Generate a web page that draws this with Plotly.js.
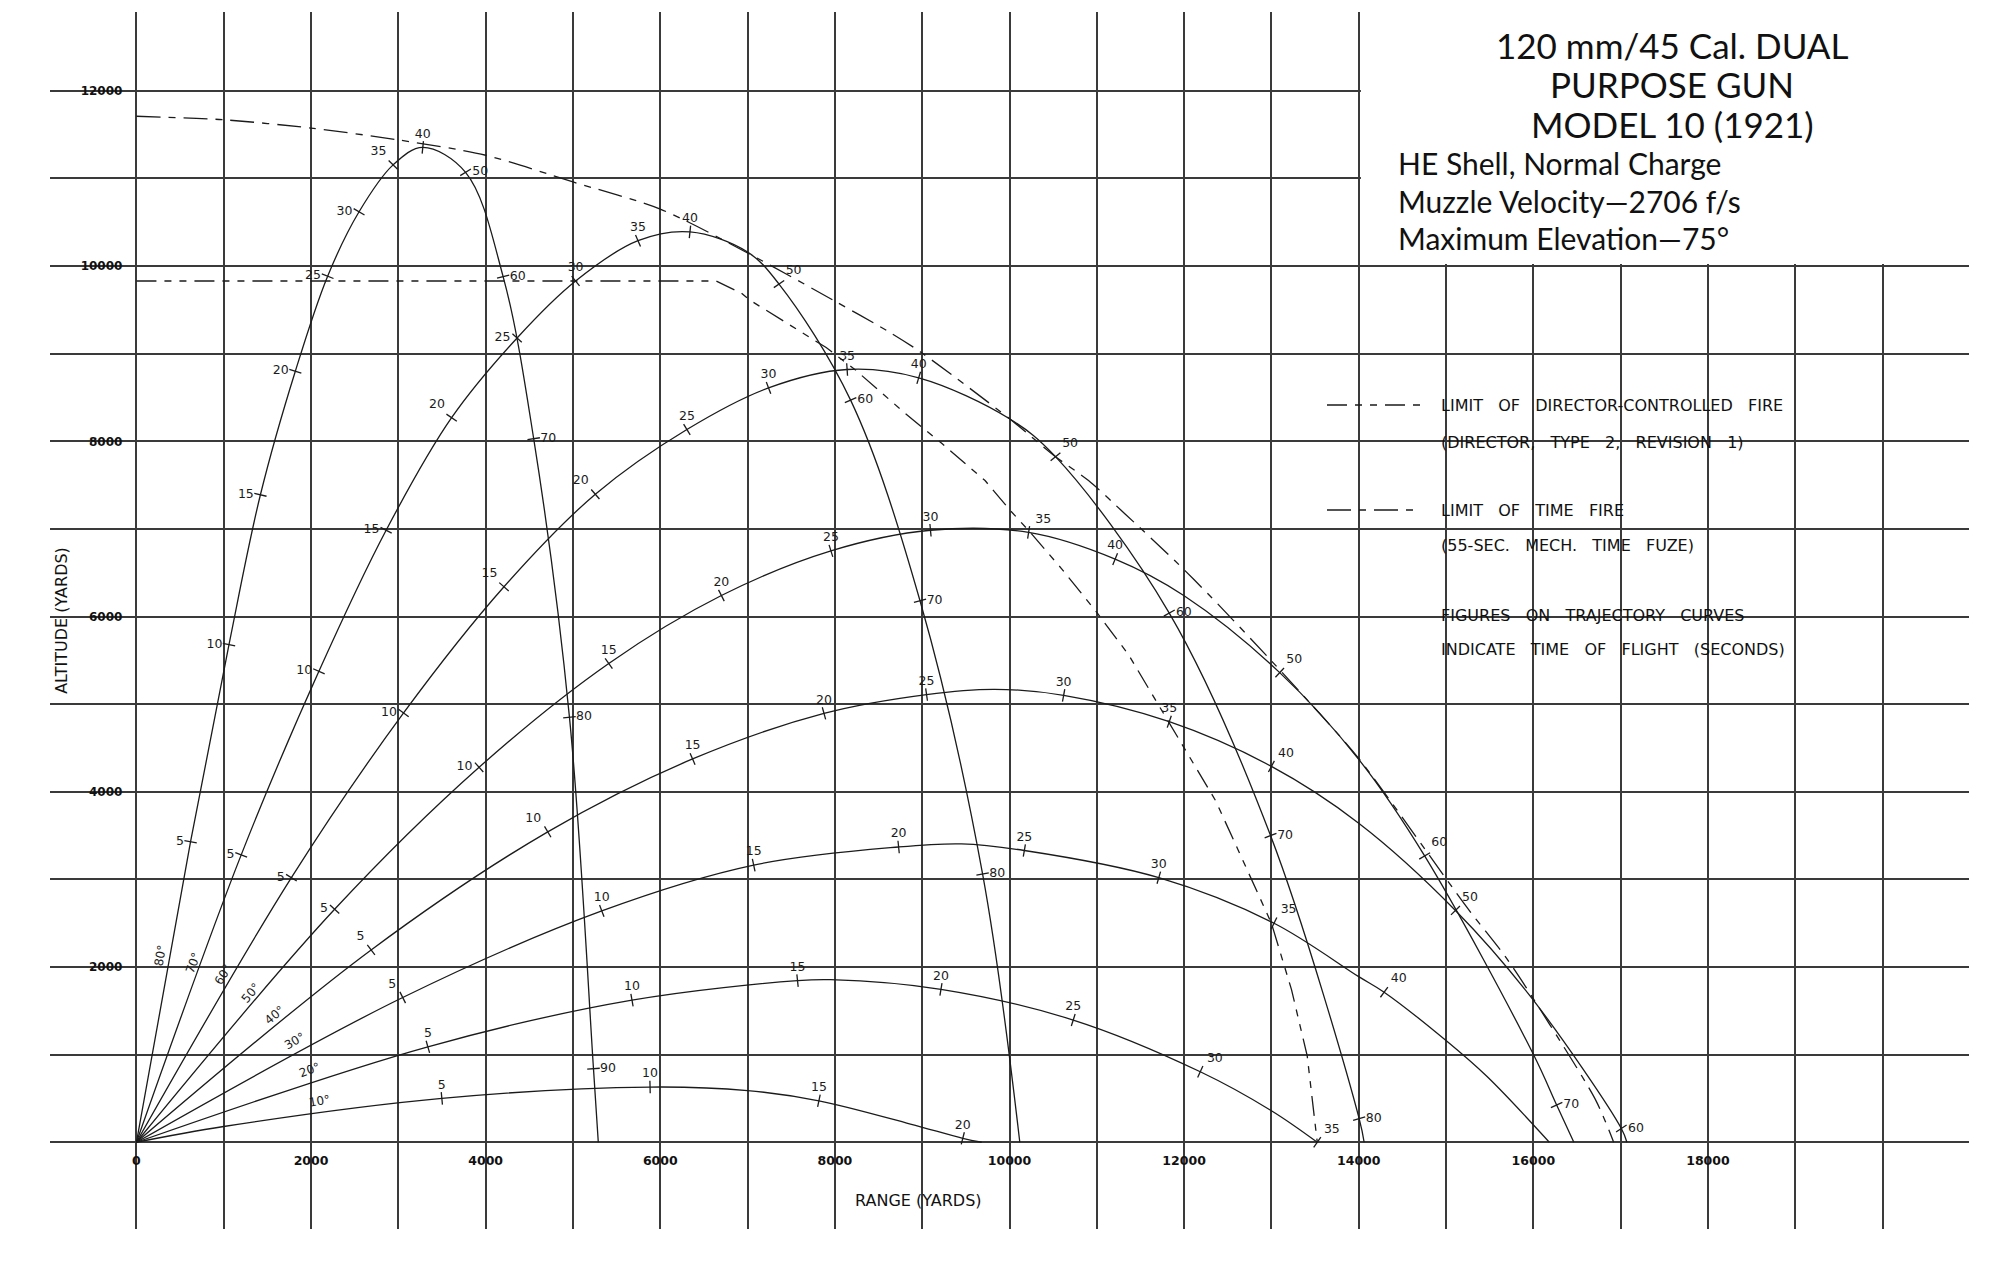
<!DOCTYPE html>
<html>
<head>
<meta charset="utf-8">
<script src="https://cdn.plot.ly/plotly-3.0.1.min.js"></script>
<style>
html,body{margin:0;padding:0;background:#ffffff;}
#chart{width:2000px;height:1263px;}
</style>
</head>
<body>
<div id="chart"></div>
<script>
// ================= DATA =================
const elevations = [80, 70, 60, 50, 40, 30, 20, 10];

// Trajectory 80°
const traj80X = [0, 620, 1060, 1420, 1820, 2190, 2550, 2940, 3280, 3770, 4200, 4550, 4960, 5235, 5290];
const traj80Y = [0, 3430, 5680, 7390, 8800, 9885, 10620, 11155, 11355, 11070, 9880, 8030, 4850, 840, 0];
const traj80T = [null, 5, 10, 15, 20, 25, 30, 35, 40, 50, 60, 70, 80, 90, null];

// Trajectory 70°
const traj70X = [0, 1200, 2090, 2860, 3610, 4360, 5030, 5745, 6340, 7000, 7360, 8180, 8975, 9692, 10118];
const traj70Y = [0, 3280, 5375, 6985, 8270, 9180, 9830, 10290, 10390, 10160, 9795, 8470, 6180, 3061, 0];
const traj70T = [null, 5, 10, 15, 20, 25, 30, 35, 40, null, 50, 60, 70, 80, null];

// Trajectory 60°
const traj60X = [0, 1775, 3060, 4210, 5256, 6305, 7240, 8140, 8960, 10000, 10527, 11830, 12990, 14005, 14062];
const traj60Y = [0, 3020, 4900, 6340, 7396, 8135, 8610, 8820, 8725, 8258, 7825, 6040, 3500, 270, 0];
const traj60T = [null, 5, 10, 15, 20, 25, 30, 35, 40, null, 50, 60, 70, 80, null];

// Trajectory 50°
const traj50X = [0, 2270, 3925, 5410, 6700, 7955, 9095, 10219, 11210, 12000, 13095, 14000, 14755, 16000, 16267, 16464];
const traj50Y = [0, 2659, 4280, 5465, 6240, 6750, 6985, 6960, 6655, 6237, 5360, 4370, 3268, 1004, 425, 0];
const traj50T = [null, 5, 10, 15, 20, 25, 30, 35, 40, null, 50, null, 60, null, 70, null];

// Trajectory 40°
const traj40X = [0, 2688, 4711, 6370, 7875, 9050, 9830, 10620, 11830, 13000, 14000, 15108, 16000, 17008, 17072];
const traj40Y = [0, 2195, 3543, 4375, 4895, 5110, 5170, 5100, 4800, 4290, 3642, 2646, 1622, 157, 0];
const traj40T = [null, 5, 10, 15, 20, 25, null, 30, 35, 40, null, 50, null, 60, null];

// Trajectory 30°
const traj30X = [0, 3050, 5330, 7070, 8730, 9450, 10170, 11710, 13030, 14000, 14291, 15000, 15470, 16183];
const traj30Y = [0, 1652, 2640, 3163, 3370, 3405, 3330, 3020, 2500, 1890, 1713, 1161, 750, 0];
const traj30T = [null, 5, 10, 15, 20, null, 25, 30, 35, null, 40, null, null, null];

// Trajectory 20°
const traj20X = [0, 3338, 5676, 7572, 7950, 9215, 10730, 12185, 13000, 13525];
const traj20Y = [0, 1090, 1622, 1845, 1856, 1745, 1395, 805, 360, 0];
const traj20T = [null, 5, 10, 15, null, 20, 25, 30, null, 35];

// Trajectory 10°
const traj10X = [0, 1000, 3498, 5883, 7000, 7817, 8865, 9465, 9681];
const traj10Y = [0, 180, 501, 630, 590, 473, 208, 45, 0];
const traj10T = [null, null, 5, 10, null, 15, null, 20, null];

// Limit of director-controlled fire
const directorX = [0, 6640, 6930, 7020, 7400, 7900, 8240, 8810, 9230, 9720, 10010, 10220, 10600, 11000, 11360, 11590, 12360, 12620, 13000, 13230, 13410, 13525];
const directorY = [9830, 9830, 9690, 9615, 9380, 9070, 8810, 8315, 7972, 7552, 7209, 6981, 6542, 6047, 5570, 5189, 3900, 3333, 2500, 1742, 985, 0];

// Limit of time fire
const timeFireX = [0, 1000, 2000, 3000, 4000, 5000, 6000, 7000, 8000, 8620, 8980, 10000, 10524, 10905, 11324, 11895, 12314, 13000, 13400, 14000, 15240, 15700, 16190, 16720, 16920];
const timeFireY = [11710, 11670, 11575, 11440, 11265, 10960, 10650, 10150, 9600, 9249, 9020, 8258, 7827, 7552, 7171, 6637, 6218, 5494, 5060, 4380, 2680, 2090, 1340, 470, 0];

// Axis gridlines and tick labels
const xGridValues = [0,1000,2000,3000,4000,5000,6000,7000,8000,9000,10000,11000,12000,13000,14000,15000,16000,17000,18000,19000,20000];
const xTickLabels = ['0','','2000','','4000','','6000','','8000','','10000','','12000','','14000','','16000','','18000','',''];
const yGridValues = [0,1000,2000,3000,4000,5000,6000,7000,8000,9000,10000,11000,12000];
const yTickLabels = ['','','2000','','4000','','6000','','8000','','10000','','12000'];

// Texts
const titleLines = ['120 mm/45 Cal. DUAL', 'PURPOSE GUN', 'MODEL 10 (1921)'];
const subtitleLines = ['HE Shell, Normal Charge', 'Muzzle Velocity\u20142706 f/s', 'Maximum Elevation\u201475\u00b0'];
const legendDirector = ['LIMIT OF DIRECTOR-CONTROLLED FIRE', '(DIRECTOR, TYPE 2, REVISION 1)'];
const legendTimeFire = ['LIMIT OF TIME FIRE', '(55-SEC. MECH. TIME FUZE)'];
const legendNote = ['FIGURES ON TRAJECTORY CURVES', 'INDICATE TIME OF FLIGHT (SECONDS)'];
const xTitle = 'RANGE (YARDS)';
const yTitle = 'ALTITUDE (YARDS)';

// ================= STYLE =================
const labelPlacement = {
  80: ['middle left','middle left','middle left','middle left','middle left','middle left','top left','top center','middle right','middle right','middle right','middle right','middle right'],
  70: ['middle left','middle left','middle left','top left','middle left','top center','top center','top center','top right','middle right','middle right','middle right'],
  60: ['middle left','middle left','top left','top left','top center','top center','top center','top center','top right','middle right','middle right','middle right'],
  50: ['middle left','middle left','top center','top center','top center','top center','top right','top center','top right','top right','middle right'],
  40: ['top left','top left','top center','top center','top center','top center','top center','top right','top right','middle right'],
  30: ['top left','top center','top center','top center','top center','top center','top right','top right'],
  20: ['top center','top center','top center','top center','top center','top right','top right'],
  10: ['top center','top center','top center','top center']
};

const trajectories = {
  80: [traj80X, traj80Y, traj80T], 70: [traj70X, traj70Y, traj70T],
  60: [traj60X, traj60Y, traj60T], 50: [traj50X, traj50Y, traj50T],
  40: [traj40X, traj40Y, traj40T], 30: [traj30X, traj30Y, traj30T],
  20: [traj20X, traj20Y, traj20T], 10: [traj10X, traj10Y, traj10T]
};

const INK = '#1b1b1b';
const GRID = '#3a3a3a';
const W = 2000, H = 1263;
const M = {l: 50, r: 31, t: 12, b: 34};
const PW = W - M.l - M.r, PH = H - M.t - M.b;
const X_RANGE = [-990, 20990], Y_RANGE = [-990, 12900];
const SX = PW / (X_RANGE[1] - X_RANGE[0]);
const SY = PH / (Y_RANGE[1] - Y_RANGE[0]);
const px = v => (v - M.l) / PW;        // pixel x -> paper
const py = v => (H - M.b - v) / PH;    // pixel y -> paper

const DIRECTOR_DASH = '20px,8px,7px,8px,7px,8px';
const TIMEFIRE_DASH = '24px,8px,7px,8px';

const traces = [];

elevations.forEach(el => {
  const [xs, ys, ts] = trajectories[el];
  traces.push({
    type: 'scatter', mode: 'lines', x: xs, y: ys,
    line: {color: INK, width: 1.3, shape: 'spline', smoothing: 1},
    hoverinfo: 'skip', showlegend: false
  });
  const mx = [], my = [], mt = [], ma = [];
  ts.forEach((t, i) => {
    if (t === null) return;
    const a = Math.max(0, i - 1), b = Math.min(xs.length - 1, i + 1);
    const dxp = (xs[b] - xs[a]) * SX, dyp = -(ys[b] - ys[a]) * SY;
    mx.push(xs[i]); my.push(ys[i]); mt.push(String(t));
    ma.push(Math.atan2(dyp, dxp) * 180 / Math.PI);
  });
  traces.push({
    type: 'scatter', mode: 'markers+text', x: mx, y: my, text: mt,
    textposition: labelPlacement[el],
    textfont: {family: 'DejaVu Sans', size: 12.5, color: INK},
    marker: {symbol: 'line-ns', size: 9, angle: ma, color: INK, line: {color: INK, width: 1.3}},
    hoverinfo: 'skip', showlegend: false, cliponaxis: false
  });
});

traces.push({
  type: 'scatter', mode: 'lines', x: directorX, y: directorY,
  line: {color: INK, width: 1.3, dash: DIRECTOR_DASH, shape: 'linear'},
  hoverinfo: 'skip', showlegend: false
});
traces.push({
  type: 'scatter', mode: 'lines', x: timeFireX, y: timeFireY,
  line: {color: INK, width: 1.3, dash: TIMEFIRE_DASH, shape: 'spline', smoothing: 0.8},
  hoverinfo: 'skip', showlegend: false
});

// ================= ANNOTATIONS =================
const annotations = [];
const titleCY = [45, 84, 124];
titleLines.forEach((t, i) => annotations.push({
  text: t, xref: 'paper', yref: 'paper', x: px(1672), y: py(titleCY[i]),
  xanchor: 'center', yanchor: 'middle', showarrow: false,
  font: {family: 'Lato', size: 35, color: '#111'}
}));
const subCY = [163, 201, 238];
subtitleLines.forEach((t, i) => annotations.push({
  text: t, xref: 'paper', yref: 'paper', x: px(1396), y: py(subCY[i]),
  xanchor: 'left', yanchor: 'middle', showarrow: false,
  font: {family: 'Lato', size: 30, color: '#111'}
}));

const spaced = s => s.replace(/ /g, '\u00a0\u00a0\u00a0');
const legendRows = [
  [legendDirector[0], 405], [legendDirector[1], 442],
  [legendTimeFire[0], 510], [legendTimeFire[1], 546],
  [legendNote[0], 615], [legendNote[1], 649]
];
legendRows.forEach(([t, y]) => annotations.push({
  text: spaced(t), xref: 'paper', yref: 'paper', x: px(1439), y: py(y),
  xanchor: 'left', yanchor: 'middle', showarrow: false,
  font: {family: 'DejaVu Sans', size: 16, color: '#111'}
}));

annotations.push({
  text: xTitle, xref: 'paper', yref: 'paper', x: px(918), y: py(1200),
  xanchor: 'center', yanchor: 'middle', showarrow: false,
  font: {family: 'DejaVu Sans', size: 16, color: '#111'}
});

// elevation labels along each trajectory near the origin
const ELEV_R = 2150, ELEV_OFF = 2.5;
elevations.forEach(el => {
  const a = (el + ELEV_OFF) * Math.PI / 180;
  annotations.push({
    text: el + '\u00b0', x: ELEV_R * Math.cos(a), y: ELEV_R * Math.sin(a),
    xref: 'x', yref: 'y', showarrow: false, textangle: -el,
    xanchor: 'center', yanchor: 'middle',
    font: {family: 'DejaVu Sans', size: 12, color: INK}
  });
});

// ================= SHAPES =================
const shapes = [
  {type: 'rect', xref: 'x', yref: 'y', x0: 14025, x1: 22000, y0: 10025, y1: 14000,
   fillcolor: '#ffffff', line: {width: 0}, layer: 'between'},
  {type: 'line', xref: 'paper', yref: 'paper', x0: px(1327), x1: px(1420), y0: py(405), y1: py(405),
   line: {color: INK, width: 1.5, dash: DIRECTOR_DASH}},
  {type: 'line', xref: 'paper', yref: 'paper', x0: px(1327), x1: px(1420), y0: py(510), y1: py(510),
   line: {color: INK, width: 1.5, dash: TIMEFIRE_DASH}}
];

const layout = {
  width: W, height: H,
  margin: {l: M.l, r: M.r, t: M.t, b: M.b, pad: 0},
  paper_bgcolor: '#ffffff', plot_bgcolor: '#ffffff',
  showlegend: false, hovermode: false,
  xaxis: {
    range: X_RANGE, tickmode: 'array', tickvals: xGridValues, ticktext: xTickLabels,
    showgrid: true, gridcolor: GRID, gridwidth: 2, zeroline: false, showline: false,
    ticks: '', anchor: 'free', position: (0 - Y_RANGE[0]) / (Y_RANGE[1] - Y_RANGE[0]),
    ticklabelstandoff: 9, automargin: false, fixedrange: true,
    tickfont: {family: 'DejaVu Sans', size: 12.5, color: '#111', weight: 'bold'}
  },
  yaxis: {
    range: Y_RANGE, tickmode: 'array', tickvals: yGridValues, ticktext: yTickLabels,
    showgrid: true, gridcolor: GRID, gridwidth: 2, zeroline: false, showline: false,
    ticks: '', anchor: 'free', position: (0 - X_RANGE[0]) / (X_RANGE[1] - X_RANGE[0]),
    ticklabelstandoff: 14, automargin: false, fixedrange: true,
    tickfont: {family: 'DejaVu Sans', size: 12, color: '#111', weight: 'bold'},
    title: {text: yTitle, font: {family: 'DejaVu Sans', size: 16, color: '#111'}, standoff: 8}
  },
  annotations: annotations,
  shapes: shapes
};

Plotly.newPlot('chart', traces, layout, {staticPlot: true, displayModeBar: false});
</script>
</body>
</html>
